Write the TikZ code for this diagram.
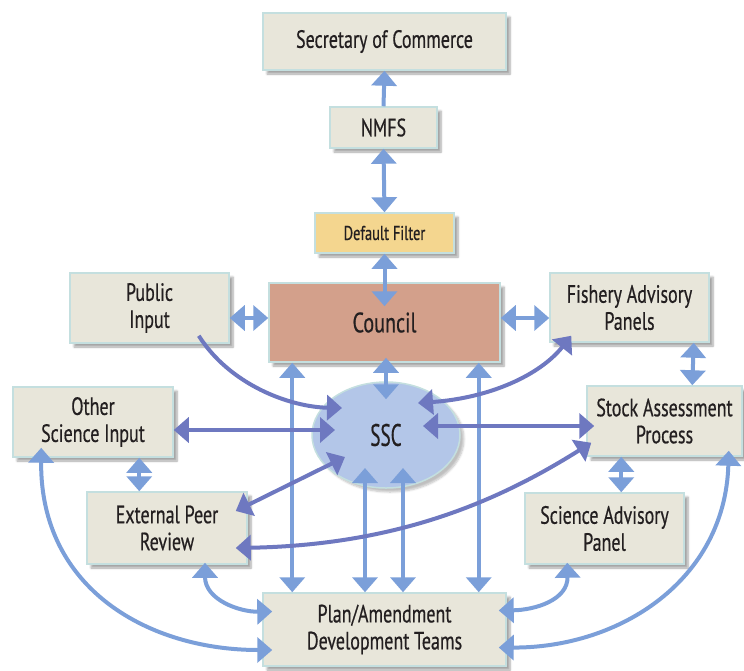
\documentclass[tikz,border=0pt]{standalone}
\usepackage{fontspec}
\setmainfont{PT Sans}[FakeStretch=0.72, FakeBold=0.5]
\newfontfamily\sscfont{PT Sans}[FakeStretch=0.62, FakeBold=0.5]
\usetikzlibrary{arrows.meta,shapes.geometric,shadows.blur,calc}

\definecolor{boxfill}{HTML}{E8E6DA}
\definecolor{boxline}{HTML}{C4DFDF}
\definecolor{councilfill}{HTML}{D3A08B}
\definecolor{filterfill}{HTML}{F4D68F}
\definecolor{sscfill}{HTML}{B3C6E8}
\definecolor{lightarrow}{HTML}{7B9FD9}
\definecolor{darkarrow}{HTML}{6E78C0}
\definecolor{ink}{HTML}{231F20}

\tikzset{
  boxnode/.style={draw=boxline, line width=1.5pt, fill=boxfill, inner sep=0pt,
    align=center, text=ink, font=\fontsize{25}{27}\selectfont,
    blur shadow={shadow xshift=4pt, shadow yshift=-4pt, shadow blur steps=6, shadow opacity=35}},
  la/.style={draw=lightarrow, line width=4pt},
  da/.style={draw=darkarrow, line width=4pt},
}

\begin{document}
\begin{tikzpicture}[x=1pt, y=-1pt, >={Triangle[width=25pt,length=15pt]}]
\useasboundingbox (0,0) rectangle (744,670);

% boxes
\node[boxnode, minimum width=243pt, minimum height=57pt] (sec) at (384.5,41.5) {Secretary of Commerce};
\node[boxnode, minimum width=107pt, minimum height=41pt] (nmfs) at (383.5,127.5) {NMFS};
\node[boxnode, fill=filterfill, minimum width=139pt, minimum height=40pt,
      font=\fontsize{20}{22}\selectfont] (filter) at (384.5,233) {Default Filter};
\node[boxnode, minimum width=159pt, minimum height=70pt] (pub) at (149.5,308) {Public\\Input};
\node[boxnode, fill=councilfill, minimum width=231pt, minimum height=79pt,
      font=\fontsize{28}{30}\selectfont] (council) at (384.5,322.5) {\raisebox{-6pt}{Council}};
\node[boxnode, minimum width=159pt, minimum height=69pt] (fap) at (629.5,307.5) {Fishery Advisory\\Panels};
\node[boxnode, minimum width=160pt, minimum height=70pt] (other) at (93,422) {Other\\Science Input};
\node[boxnode, minimum width=155pt, minimum height=70pt] (stock) at (664.5,421) {Stock Assessment\\Process};
\node[boxnode, minimum width=160pt, minimum height=72pt] (epr) at (167,528) {External Peer\\Review};
\node[boxnode, minimum width=159pt, minimum height=71pt] (sap) at (604.5,528.5) {Science Advisory\\Panel};
\node[boxnode, minimum width=243pt, minimum height=73pt] (plan) at (384.5,629.5) {Plan/Amendment\\Development Teams};
\node[ellipse, draw=boxline, line width=1.5pt, fill=sscfill, minimum width=148pt, minimum height=106pt,
      inner sep=0pt, text=ink, font=\sscfont\fontsize{31}{33}\selectfont,
      blur shadow={shadow xshift=4pt, shadow yshift=-4pt, shadow blur steps=6, shadow opacity=25}]
      (ssc) at (386,435) {SSC};

% chain to the Secretary
\draw[la, ->] (nmfs.north) -- (sec.south);
\draw[la, <->] (nmfs.south) -- (filter.north);
\draw[la, <->] (filter.south) -- ($(council.north)+(0,24)$);

% council row
\draw[la, <->] ($(pub.east)+(0,10)$) -- ($(council.west)+(0,-4.5)$);
\draw[la, <->] ($(council.east)+(0,-4.5)$) -- ($(fap.west)+(0,10.5)$);
\draw[la, <->] ($(council.south)+(1.5,-5)$) -- ($(ssc.north)+(0,18)$);
\draw[la, <->] ($(fap.south east)+(-16,0)$) -- ($(stock.north west)+(106,0)$);

% council to plan teams
\draw[la, <->] ($(council.south west)+(24,0)$) -- ($(plan.north west)+(30,0)$);
\draw[la, <->] ($(council.south east)+(-22,0)$) -- ($(plan.north east)+(-28,0)$);

% SSC to plan teams
\draw[la, <->] ($(ssc.center)+(-21,33)$) -- ($(plan.north)+(-19.5,0)$);
\draw[la, <->] ($(ssc.center)+(17,33)$) -- ($(plan.north)+(18.5,0)$);

% science links around the SSC
\draw[da, ->] ($(pub.south east)+(-31,-8)$) .. controls (230,385) and (290,407) .. ($(ssc.center)+(-44,-27)$);
\draw[da, <->] ($(other.east)+(0,8)$) -- ($(ssc.center)+(-51,-5)$);
\draw[da, <->] ($(ssc.center)+(37,-9)$) -- ($(stock.west)+(8,5)$);
\draw[da, <->] ($(ssc.center)+(32,-32)$) .. controls (490,398) and (540,375) .. ($(fap.south west)+(22,-7)$);
\draw[da, <->] ($(ssc.center)+(-41,22)$) -- ($(epr.east)+(-12,-17)$);
\draw[da, <->] ($(epr.east)+(-12,20)$) .. controls (400,545) and (500,500) .. ($(stock.south west)+(5,-14)$);

% side links
\draw[la, <->] ($(other.south west)+(127,0)$) -- ($(epr.north west)+(53,0)$);
\draw[la, <->] ($(stock.south west)+(35,0)$) -- ($(sap.north west)+(97,0)$);
\draw[la, <->] ($(other.south west)+(29,-10)$) .. controls (40,590) and (150,650) .. ($(plan.west)+(10,20.5)$);
\draw[la, <->] ($(stock.south east)+(-14,-6)$) .. controls (725,580) and (620,648) .. ($(plan.east)+(-8,18)$);
\draw[la, <->] ($(epr.south)+(38,-2)$) .. controls (205,600) and (240,612) .. ($(plan.west)+(10,-18)$);
\draw[la, <->] ($(sap.south west)+(43,-2)$) .. controls (568,600) and (535,610) .. ($(plan.east)+(-8,-19)$);

\end{tikzpicture}
\end{document}
